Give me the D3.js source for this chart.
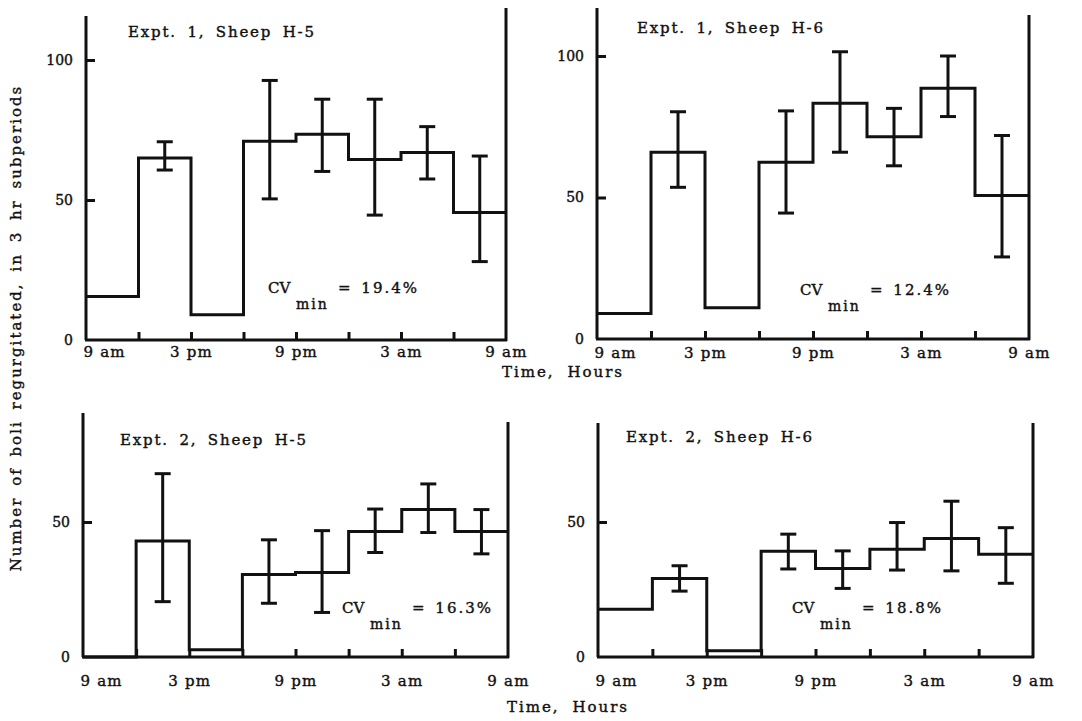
<!DOCTYPE html>
<html>
<head>
<meta charset="utf-8">
<script src="https://cdn.jsdelivr.net/npm/d3@7"></script>
<style>
  body { margin: 0; background: #fff; }
  svg text { font-family: "DejaVu Serif", "Liberation Serif", serif; fill: #111; stroke: #111; stroke-width: 0.4px; }
</style>
</head>
<body>
<div id="chart"></div>
<script>
// rumination histograms, 4 panels, 3 hr bins from 9 am to 9 am

var hourLabels = ['9 am', '3 pm', '9 pm', '3 am', '9 am'];
var labelHours = [0, 6, 12, 18, 24];
var binHours = [0, 3, 6, 9, 12, 15, 18, 21];

var titles = ['Expt. 1, Sheep H-5', 'Expt. 1, Sheep H-6', 'Expt. 2, Sheep H-5', 'Expt. 2, Sheep H-6'];
var cvValues = ['19.4%', '12.4%', '16.3%', '18.8%'];

var h5e1Mean = [15.5, 65, 9, 71, 73.5, 64.5, 67, 45.5];
var h5e1Lo   = [null, 60.7, null, 50.4, 60.2, 44.6, 57.5, 28];
var h5e1Hi   = [null, 70.8, null, 92.7, 86, 86, 76.2, 65.7];

var h6e1Mean = [9, 66, 11, 62.5, 83.3, 71.5, 88.6, 50.7];
var h6e1Lo   = [null, 53.6, null, 44.5, 66, 61.2, 78.6, 29];
var h6e1Hi   = [null, 80.3, null, 80.6, 101.5, 81.5, 100, 71.9];

var h5e2Mean = [0, 43, 2.7, 30.6, 31.3, 46.5, 54.6, 46.5];
var h5e2Lo   = [null, 20.5, null, 19.9, 16.5, 38.7, 46.1, 38.2];
var h5e2Hi   = [null, 67.9, null, 43.4, 46.8, 54.8, 64.1, 54.6];

var h6e2Mean = [17.7, 29.1, 2.3, 39.2, 32.8, 39.9, 43.9, 38.1];
var h6e2Lo   = [null, 24.4, null, 32.6, 25.4, 32.2, 31.9, 27.3];
var h6e2Hi   = [null, 33.8, null, 45.5, 39.3, 49.8, 57.7, 47.9];

var yTicksTop = [0, 50, 100];
var yTicksBottom = [0, 50];

// layout of each panel (pixels)
var panels = [
    {mean: h5e1Mean, lo: h5e1Lo, hi: h5e1Hi, yTicks: yTicksTop, yMax: 100,
     x0: 86, x1: 506, yZero: 340, yTop: 60, leftTop: 16, rightTop: 8, labelDy: 18,
     titleX: 42, titleY: 37, cvX: 268, cvY: 293},
    {mean: h6e1Mean, lo: h6e1Lo, hi: h6e1Hi, yTicks: yTicksTop, yMax: 100,
     x0: 597, x1: 1029, yZero: 339, yTop: 56, leftTop: 8, rightTop: 15, labelDy: 20,
     titleX: 40, titleY: 33, cvX: 800, cvY: 295},
    {mean: h5e2Mean, lo: h5e2Lo, hi: h5e2Hi, yTicks: yTicksBottom, yMax: 50,
     x0: 83, x1: 508, yZero: 657, yTop: 522, leftTop: 413, rightTop: 422, labelDy: 30,
     titleX: 37, titleY: 445, cvX: 342, cvY: 613},
    {mean: h6e2Mean, lo: h6e2Lo, hi: h6e2Hi, yTicks: yTicksBottom, yMax: 50,
     x0: 598, x1: 1033, yZero: 657, yTop: 522, leftTop: 423, rightTop: 423, labelDy: 30,
     titleX: 28, titleY: 442, cvX: 792, cvY: 613}
];

var svg = d3.select('#chart')
            .append('svg')
            .attr('width', 1082)
            .attr('height', 721);

var lw = 3;

panels.forEach(function(p, k){
    var x = d3.scaleLinear().domain([0, 24]).range([p.x0, p.x1]);
    var y = d3.scaleLinear().domain([0, p.yMax]).range([p.yZero, p.yTop]);
    var g = svg.append('g');

    // frame: left axis, right edge, baseline
    g.append('line').attr('x1', p.x0).attr('x2', p.x0).attr('y1', p.yZero).attr('y2', p.leftTop)
        .attr('stroke', '#111').attr('stroke-width', lw);
    g.append('line').attr('x1', p.x1).attr('x2', p.x1).attr('y1', p.yZero + 1).attr('y2', p.rightTop)
        .attr('stroke', '#111').attr('stroke-width', lw);
    g.append('line').attr('x1', p.x0 - 1).attr('x2', p.x1 + 1).attr('y1', p.yZero).attr('y2', p.yZero)
        .attr('stroke', '#111').attr('stroke-width', lw);

    // inner tick marks on the time axis
    var xt = g.append('g')
        .attr('transform', 'translate(0,' + p.yZero + ')')
        .call(d3.axisBottom(x).tickValues(binHours.slice(1)).tickSize(-8).tickFormat(''));
    xt.select('.domain').remove();
    xt.selectAll('.tick line').attr('stroke', '#111').attr('stroke-width', lw);

    // time labels
    var xl = g.append('g')
        .attr('transform', 'translate(0,' + p.yZero + ')')
        .call(d3.axisBottom(x).tickValues(labelHours).tickSize(0).tickPadding(p.labelDy - 12)
              .tickFormat(function(d, i){ return hourLabels[i]; }));
    xl.attr('font-family', null).attr('font-size', null);
    xl.select('.domain').remove();
    xl.selectAll('.tick text')
        .attr('font-size', 15).attr('letter-spacing', 1.2)
        .attr('fill', '#111');
    xl.selectAll('.tick').filter(function(d){ return d === 0; }).select('text')
        .attr('text-anchor', 'start').attr('dx', -3);

    // value axis
    var yl = g.append('g')
        .attr('transform', 'translate(' + p.x0 + ',0)')
        .call(d3.axisLeft(y).tickValues(p.yTicks).tickSize(-9).tickPadding(13));
    yl.attr('font-family', null).attr('font-size', null);
    yl.select('.domain').remove();
    yl.selectAll('.tick line').attr('stroke', '#111').attr('stroke-width', lw)
        .filter(function(d){ return d === 0; }).remove();
    yl.selectAll('.tick text').attr('font-size', 14).attr('fill', '#111');

    // step histogram
    var pts = binHours.map(function(h, i){ return [h, p.mean[i]]; });
    pts.push([24, p.mean[p.mean.length - 1]]);
    var step = d3.line().x(function(d){ return x(d[0]); }).y(function(d){ return y(d[1]); })
                .curve(d3.curveStepAfter);
    g.append('path')
        .attr('d', step(pts))
        .attr('fill', 'none')
        .attr('stroke', '#111')
        .attr('stroke-width', lw)
        .attr('stroke-linejoin', 'miter');

    // error bars at bin centres
    var bars = binHours.map(function(h, i){ return {h: h + 1.5, lo: p.lo[i], hi: p.hi[i]}; })
                       .filter(function(d){ return d.lo !== null; });
    var eb = g.selectAll('.err').data(bars).enter().append('g').attr('class', 'err');
    eb.append('line')
        .attr('x1', function(d){ return x(d.h); }).attr('x2', function(d){ return x(d.h); })
        .attr('y1', function(d){ return y(d.lo); }).attr('y2', function(d){ return y(d.hi); });
    eb.append('line')
        .attr('x1', function(d){ return x(d.h) - 8; }).attr('x2', function(d){ return x(d.h) + 8; })
        .attr('y1', function(d){ return y(d.lo); }).attr('y2', function(d){ return y(d.lo); });
    eb.append('line')
        .attr('x1', function(d){ return x(d.h) - 8; }).attr('x2', function(d){ return x(d.h) + 8; })
        .attr('y1', function(d){ return y(d.hi); }).attr('y2', function(d){ return y(d.hi); });
    eb.selectAll('line').attr('stroke', '#111').attr('stroke-width', lw);

    // panel title
    g.append('text')
        .attr('x', p.x0 + p.titleX).attr('y', p.titleY)
        .attr('font-size', 15).attr('letter-spacing', 1.8).attr('word-spacing', 4)
        .text(titles[k]);

    // coefficient of variation
    g.append('text').attr('x', p.cvX).attr('y', p.cvY)
        .attr('font-size', 15).text('CV');
    g.append('text').attr('x', p.cvX + 28).attr('y', p.cvY + 16)
        .attr('font-size', 14).attr('letter-spacing', 2).text('min');
    g.append('text').attr('x', p.cvX + 70).attr('y', p.cvY)
        .attr('font-size', 15).attr('letter-spacing', 2).attr('word-spacing', 2)
        .text('= ' + cvValues[k]);
});

// shared axis titles
svg.append('text')
    .attr('x', 563).attr('y', 377)
    .attr('text-anchor', 'middle')
    .attr('font-size', 15).attr('letter-spacing', 2).attr('word-spacing', 6)
    .text('Time, Hours');
svg.append('text')
    .attr('x', 568).attr('y', 712)
    .attr('text-anchor', 'middle')
    .attr('font-size', 15).attr('letter-spacing', 2).attr('word-spacing', 6)
    .text('Time, Hours');

svg.append('g')
    .attr('transform', 'translate(21,328), rotate(-90)')
    .append('text')
    .attr('text-anchor', 'middle')
    .attr('font-size', 15).attr('letter-spacing', 2).attr('word-spacing', 4)
    .text('Number of boli regurgitated, in 3 hr subperiods');
</script>
</body>
</html>
